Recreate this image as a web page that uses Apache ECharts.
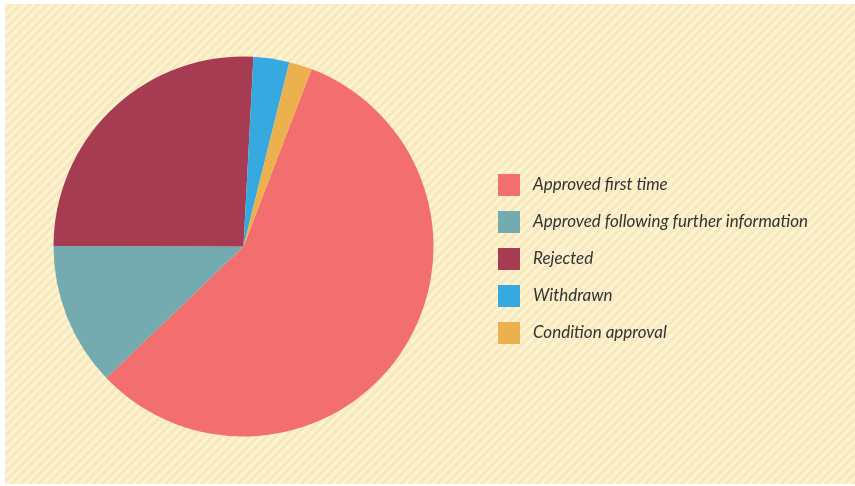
<!DOCTYPE html>
<html>
<head>
<meta charset="utf-8">
<script src="https://cdn.jsdelivr.net/npm/echarts@6/dist/echarts.min.js"></script>
<style>
html,body{margin:0;padding:0;background:#ffffff;width:855px;height:486px;overflow:hidden;}
#bg{position:absolute;left:5px;top:4px;width:850px;height:480px;
background:repeating-linear-gradient(135deg,#fdf3cd 0px,#fdf3cd 3.2px,#f7e8c2 3.2px,#f7e8c2 6.4px);}
#chart{position:absolute;left:0;top:0;width:855px;height:486px;}
</style>
</head>
<body>
<div id="bg"></div>
<div id="chart"></div>
<script>
const categories = ["Approved first time","Approved following further information","Rejected","Withdrawn","Condition approval"];
const values = [57.0, 12.2, 25.8, 3.05, 1.95];
const colors = ["#f36e6e","#73abb0","#a53c52","#35a9e0","#ecb14e"];

const chart = echarts.init(document.getElementById('chart'), null, {renderer:'canvas'});
chart.setOption({
  backgroundColor: 'transparent',
  animation: false,
  color: colors,
  legend: {
    orient: 'vertical',
    left: 498,
    top: 174,
    padding: 0,
    itemWidth: 22,
    itemHeight: 22,
    itemGap: 15,
    icon: 'rect',
    data: categories,
    textStyle: {
      fontFamily: 'Lato',
      fontStyle: 'italic',
      fontSize: 17,
      color: '#333333',
      padding: [0,0,0,8]
    }
  },
  series: [{
    type: 'pie',
    center: [243.5, 246.5],
    radius: 190,
    startAngle: 69,
    clockwise: true,
    label: {show: false},
    labelLine: {show: false},
    emphasis: {disabled: true},
    data: categories.map((c,i)=>({name:c, value:values[i]}))
  }]
});
</script>
</body>
</html>
